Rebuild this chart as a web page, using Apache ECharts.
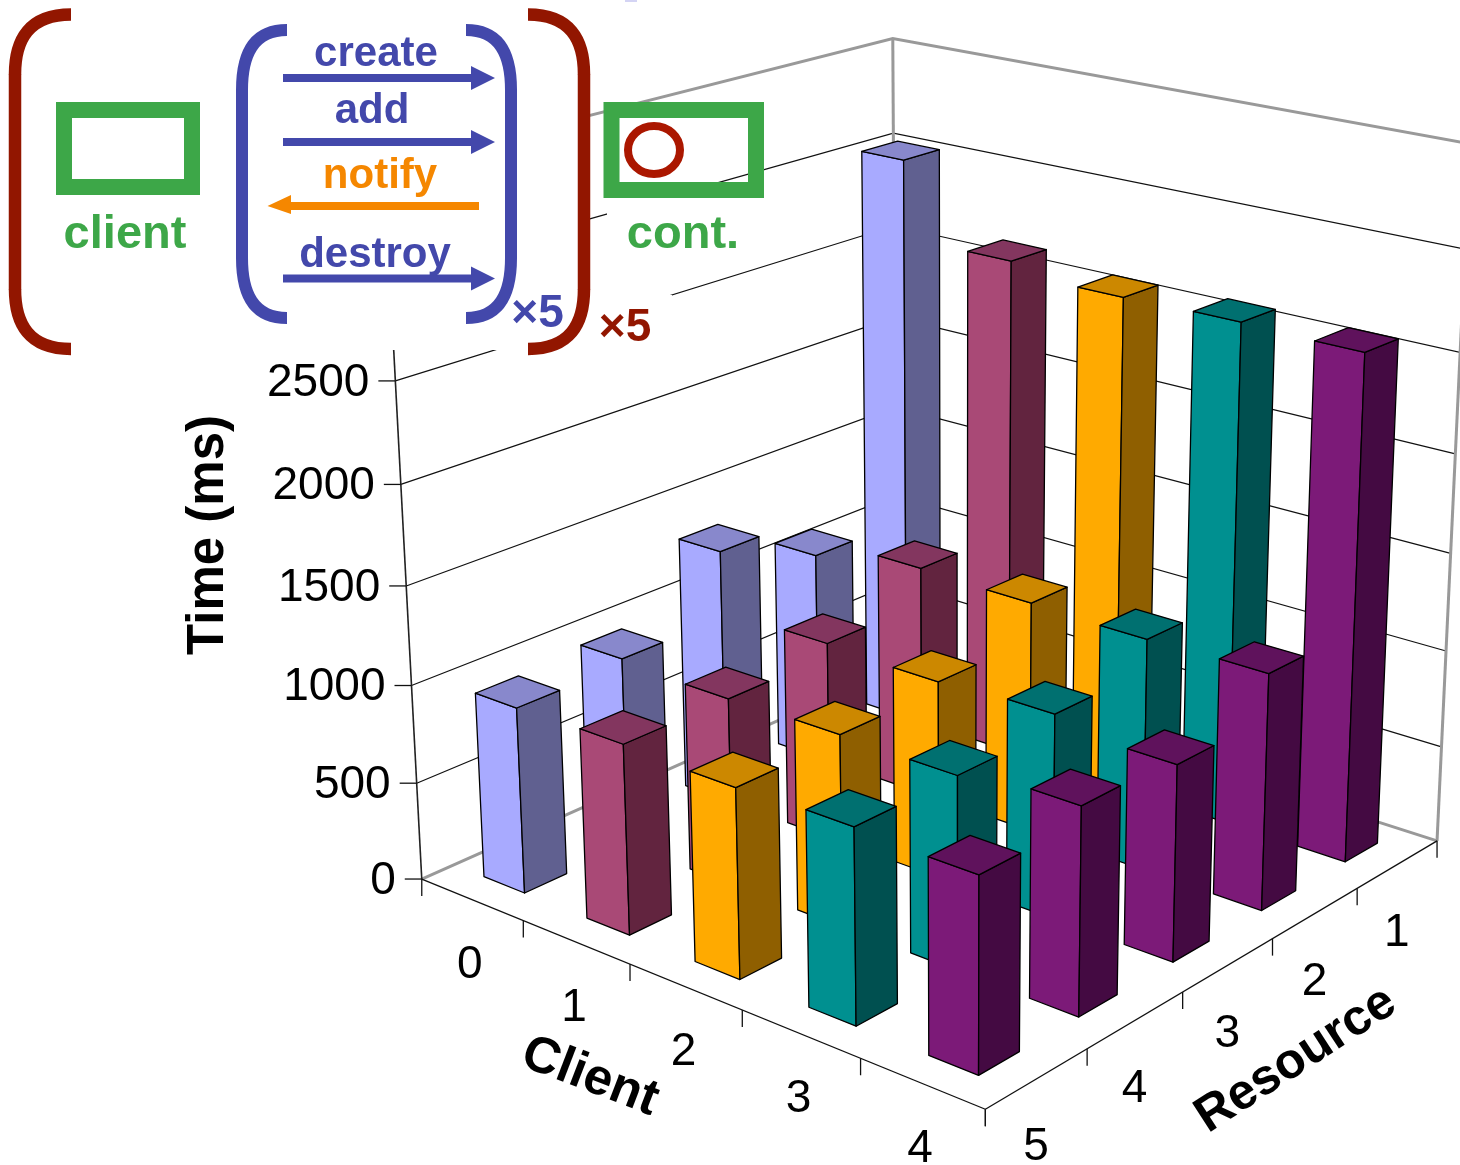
<!DOCTYPE html>
<html>
<head>
<meta charset="utf-8">
<style>html,body{margin:0;padding:0;background:#fff}#c{width:1460px;height:1165px}</style>
<script src="https://cdn.jsdelivr.net/npm/echarts@6/dist/echarts.min.js"></script>
</head>
<body>
<div id="c"></div>
<script>
// ---- chart data ----
const clients = ['0', '1', '2', '3', '4'];
const resources = ['1', '2', '3', '4', '5'];
const valueTicks = [0, 500, 1000, 1500, 2000, 2500, 3000, 3500];
const valueLabels = [0, 500, 1000, 1500, 2000, 2500];
const valueMax = 3500;
// time in ms for resources 1..5
const client0 = [3030, 1110, 1330, 980, 950];
const client1 = [2630, 1210, 1025, 960, 960];
const client2 = [2575, 1200, 1010, 970, 945];
const client3 = [2585, 1190, 1035, 965, 960];
const client4 = [2575, 1200, 980, 1020, 945];
const clientSeries = [client0, client1, client2, client3, client4];

// ---- face colours per client: left, right, top ----
const faces = [
  ['#a8aaff', '#606090', '#8888cc'],
  ['#a94976', '#62243f', '#83365f'],
  ['#ffaa00', '#8f5f00', '#cc8800'],
  ['#009090', '#005050', '#007070'],
  ['#7c1a78', '#440a42', '#5f125c']
];

// ---- perspective camera calibrated on the plot box: [u, v, h, px, py] ----
const anchors = [
  [0, 0, 0, 421, 878], [1, 0, 0, 986, 1110], [1, 1, 0, 1437, 841], [0, 1, 0, 897, 669],
  [0, 0, 1 / 7, 416.7, 782.7], [0, 0, 2 / 7, 411.7, 685], [0, 0, 3 / 7, 406, 586],
  [0, 0, 4 / 7, 400.7, 485], [0, 0, 5 / 7, 395.7, 381.7],
  [0, 1, 6 / 7, 893.6, 133], [0, 1, 1, 892.5, 38],
  [1, 1, 1 / 7, 1441, 746], [1, 1, 2 / 7, 1446, 651]
];
function solveCamera(pts) {
  const n = 11, M = [], R = [];
  for (let i = 0; i < n; i++) { M.push(new Array(n).fill(0)); R.push(0); }
  function add(row, rhs) {
    for (let i = 0; i < n; i++) {
      R[i] += row[i] * rhs;
      for (let j = 0; j < n; j++) M[i][j] += row[i] * row[j];
    }
  }
  pts.forEach(p => {
    const u = p[0], v = p[1], h = p[2], X = p[3] / 1000, Y = p[4] / 1000;
    add([u, v, h, 1, 0, 0, 0, 0, -X * u, -X * v, -X * h], X);
    add([0, 0, 0, 0, u, v, h, 1, -Y * u, -Y * v, -Y * h], Y);
  });
  for (let c = 0; c < n; c++) {
    let b = c;
    for (let r = c + 1; r < n; r++) if (Math.abs(M[r][c]) > Math.abs(M[b][c])) b = r;
    [M[c], M[b]] = [M[b], M[c]];
    [R[c], R[b]] = [R[b], R[c]];
    for (let r = 0; r < n; r++) {
      if (r === c) continue;
      const f = M[r][c] / M[c][c];
      for (let k = c; k < n; k++) M[r][k] -= f * M[c][k];
      R[r] -= f * R[c];
    }
  }
  return R.map((x, i) => x / M[i][i]);
}
const cam = solveCamera(anchors);
function project(u, v, h) {
  const w = cam[8] * u + cam[9] * v + cam[10] * h + 1;
  return [
    1000 * (cam[0] * u + cam[1] * v + cam[2] * h + cam[3]) / w,
    1000 * (cam[4] * u + cam[5] * v + cam[6] * h + cam[7]) / w
  ];
}
// scales: category index / value -> normalised box coordinate
const uOf = c => c / clients.length;                 // client boundary
const vOf = r => (resources.length - r) / resources.length; // resource index 0 = back
const hOf = t => t / valueMax;

const bandInset = 0.3;
const barFraction = 0.4;

const barData = [];
clients.forEach((c, ci) => resources.forEach((r, ri) => {
  barData.push([ci, ri, clientSeries[ci][ri]]);
}));

function renderBar(params, api) {
  const ci = api.value(0), ri = api.value(1), val = api.value(2);
  const du = 1 / clients.length, dv = 1 / resources.length;
  const u0 = uOf(ci) + du * bandInset, u1 = u0 + du * barFraction;
  const v1 = vOf(ri) - dv * bandInset, v0 = v1 - dv * barFraction;
  const h = hOf(val);
  const st = f => ({ fill: f, stroke: '#000', lineWidth: 1.3, lineJoin: 'round' });
  const col = faces[ci];
  return {
    type: 'group',
    children: [
      { type: 'polygon', shape: { points: [project(u0, v0, 0), project(u1, v0, 0), project(u1, v0, h), project(u0, v0, h)] }, style: st(col[0]) },
      { type: 'polygon', shape: { points: [project(u1, v0, 0), project(u1, v1, 0), project(u1, v1, h), project(u1, v0, h)] }, style: st(col[1]) },
      { type: 'polygon', shape: { points: [project(u0, v0, h), project(u1, v0, h), project(u1, v1, h), project(u0, v1, h)] }, style: st(col[2]) }
    ]
  };
}

function renderGrid(params, api) {
  const t = api.value(0), h = hOf(t);
  const edge = t === 0 || t === valueMax;
  return {
    type: 'polyline',
    shape: { points: [project(0, 0, h), project(0, 1, h), project(1, 1, h)] },
    style: { fill: null, stroke: edge ? '#999' : '#111', lineWidth: edge ? 3 : 1.2 }
  };
}

function lineOf(a, b) { return { x1: a[0], y1: a[1], x2: b[0], y2: b[1] }; }
function renderFrame() {
  const grey = { fill: null, stroke: '#999', lineWidth: 3 };
  const dark = { fill: null, stroke: '#111', lineWidth: 1.3 };
  const kids = [
    { type: 'line', shape: lineOf(project(0, 1, 0), project(0, 1, 1)), style: grey },
    { type: 'line', shape: lineOf(project(1, 1, 0), project(1, 1, 1)), style: grey },
    { type: 'line', shape: lineOf(project(0, 0, 0), project(0, 0, 1)), style: { fill: null, stroke: '#222', lineWidth: 1.6 } },
    { type: 'line', shape: lineOf(project(0, 0, 0), project(1, 0, 0)), style: dark },
    { type: 'line', shape: lineOf(project(1, 0, 0), project(1, 1, 0)), style: dark }
  ];
  for (let i = 0; i <= clients.length; i++) {
    const p = project(i / clients.length, 0, 0);
    kids.push({ type: 'line', shape: lineOf(p, [p[0], p[1] + 17]), style: dark });
  }
  for (let i = 0; i < resources.length; i++) {
    const p = project(1, i / resources.length, 0);
    kids.push({ type: 'line', shape: lineOf(p, [p[0], p[1] + 17]), style: dark });
  }
  const pc = project(1, 1, 0);
  kids.push({ type: 'line', shape: lineOf(pc, [pc[0], pc[1] + 17]), style: dark });
  valueTicks.forEach(t => {
    const p = project(0, 0, hOf(t));
    kids.push({ type: 'line', shape: lineOf(p, [p[0] - 17, p[1]]), style: dark });
  });
  return { type: 'group', children: kids };
}

const tickFont = '46px "Liberation Sans", Arial, sans-serif';
function renderLabels() {
  const kids = [];
  const txt = (s, x, y, align) => ({
    type: 'text',
    style: { text: s, x: x, y: y, font: tickFont, fill: '#000', align: align, verticalAlign: 'middle' }
  });
  valueLabels.forEach(t => {
    const p = project(0, 0, hOf(t));
    kids.push(txt(String(t), p[0] - 26, p[1] + 2, 'right'));
  });
  clients.forEach((c, i) => {
    const p = project((i + 0.5) / clients.length, 0, 0);
    kids.push(txt(c, p[0] - 2, p[1] + 66, 'center'));
  });
  resources.forEach((r, i) => {
    const p = project(1, vOf(i) - 0.5 / resources.length, 0);
    kids.push(txt(r, p[0] - 1, p[1] + 69, 'center'));
  });
  return { type: 'group', children: kids };
}

// ---- legend diagram (annotation over the plot) ----
const RED = '#921600', BLUE = '#4348ab', GREEN = '#3da748', ORANGE = '#f58700', RING = '#ab1700';
const bold = s => 'bold ' + s + 'px "Liberation Sans", Arial, sans-serif';
function label(text, x, y, size, fill, rot) {
  return { type: 'text', z: 102, x: x, y: y, rotation: rot || 0, silent: true,
    style: { text: text, font: bold(size), fill: fill, align: 'center', verticalAlign: 'middle' } };
}
// a "(" or ")" made of two curves and a straight: x0 end, xm spine, yT/yB ends
function bracket(x0, xm, yT, yB, color, w) {
  const s = { fill: null, stroke: color, lineWidth: w };
  const cp = x0 + (xm - x0) * 0.75, yA = yT + 60, yZ = yB - 60;
  const base = { z: 101, silent: true, style: s };
  return [
    Object.assign({ type: 'bezierCurve', shape: { x1: x0, y1: yT, cpx1: cp, cpy1: yT, cpx2: xm, cpy2: yT + 25, x2: xm, y2: yA } }, base),
    Object.assign({ type: 'line', shape: { x1: xm, y1: yA - 0.5, x2: xm, y2: yZ + 0.5 } }, base),
    Object.assign({ type: 'bezierCurve', shape: { x1: xm, y1: yZ, cpx1: xm, cpy1: yB - 25, cpx2: cp, cpy2: yB, x2: x0, y2: yB } }, base)
  ];
}
function whiteBox(x, y, w, h) {
  return { type: 'rect', z: 100, silent: true, shape: { x: x, y: y, width: w, height: h }, style: { fill: '#fff' } };
}
function frame(x, y, w, h, lw) {
  return { type: 'rect', z: 101, silent: true, shape: { x: x + lw / 2, y: y + lw / 2, width: w - lw, height: h - lw }, style: { fill: null, stroke: GREEN, lineWidth: lw } };
}
function arrowRight(y) {
  return { type: 'polygon', z: 101, silent: true, shape: { points: [[283, y - 4], [471, y - 4], [471, y - 12], [495, y], [471, y + 12], [471, y + 4], [283, y + 4]] }, style: { fill: BLUE } };
}
const diagram = [
  whiteBox(0, 0, 590, 350),
  whiteBox(607, 198, 160, 64),
  whiteBox(590, 295, 82, 60),
  ...bracket(71, 15, 14.5, 349, RED, 12.5),
  ...bracket(528, 584, 14.5, 349, RED, 12.5),
  ...bracket(287, 242, 30, 318, BLUE, 12),
  ...bracket(466, 511, 30, 318, BLUE, 12),
  frame(56, 102, 144, 93, 16),
  frame(603.5, 102, 160.5, 96, 16),
  { type: 'ellipse', z: 101, silent: true, shape: { cx: 654, cy: 150, rx: 26, ry: 24 }, style: { fill: null, stroke: RING, lineWidth: 8 } },
  arrowRight(78), arrowRight(142), arrowRight(278.5),
  { type: 'polygon', z: 101, silent: true, shape: { points: [[479, 202], [291, 202], [291, 195], [267.5, 206], [291, 214], [291, 210], [479, 210]] }, style: { fill: ORANGE } },
  label('create', 376, 54, 42, BLUE),
  label('add', 372, 111, 42, BLUE),
  label('notify', 380, 176, 42, ORANGE),
  label('destroy', 375, 255, 42, BLUE),
  label('client', 125, 235, 47, GREEN),
  label('cont.', 683, 235, 47, GREEN),
  label('×5', 537.5, 314, 46, BLUE),
  label('×5', 625, 328, 46, RED),
  { type: 'rect', z: 100, silent: true, shape: { x: 625, y: 0, width: 12, height: 2 }, style: { fill: '#d4d4f4' } },
  label('Time (ms)', 209, 535, 51, '#000', Math.PI / 2),
  label('Client', 590, 1077, 51, '#000', -21 * Math.PI / 180),
  label('Resource', 1296, 1060, 50, '#000', 33 * Math.PI / 180)
];

const chart = echarts.init(document.getElementById('c'), null, { width: 1460, height: 1165 });
chart.setOption({
  animation: false,
  backgroundColor: '#fff',
  graphic: { elements: diagram },
  series: [
    { type: 'custom', name: 'Gridlines', coordinateSystem: 'none', silent: true, z: 1, renderItem: renderGrid, data: valueTicks.map(t => [t]) },
    { type: 'custom', name: 'Axes', coordinateSystem: 'none', silent: true, z: 2, renderItem: renderFrame, data: [[0]] },
    { type: 'custom', name: 'Tick labels', coordinateSystem: 'none', silent: true, z: 3, renderItem: renderLabels, data: [[0]] },
    { type: 'custom', name: 'Time (ms)', coordinateSystem: 'none', silent: true, z: 4, renderItem: renderBar, data: barData }
  ]
});
</script>
</body>
</html>
